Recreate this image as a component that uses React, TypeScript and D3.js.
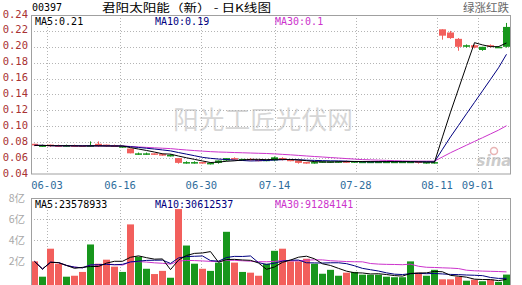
import React from 'react';
import * as d3 from 'd3';

const W = 522;
const H = 285;

const tickLabels = ['06-03', '06-16', '06-30', '07-14', '07-28', '08-11', '09-01'];
const tickIndex = [2, 11, 21, 30, 40, 50, 55];
const priceTicks = [0.04, 0.06, 0.08, 0.1, 0.12, 0.14, 0.16, 0.18, 0.2, 0.22, 0.24];
const volTicks = [2, 4, 6, 8];
const volGrid = [4, 6];

const opens = [
  0.078, 0.075, 0.077, 0.076, 0.075, 0.076, 0.076, 0.075, 0.078, 0.077,
  0.076, 0.074, 0.072, 0.065, 0.065, 0.066, 0.065, 0.063, 0.060, 0.054,
  0.054, 0.055, 0.053, 0.054, 0.057, 0.060, 0.058, 0.059, 0.058, 0.057,
  0.057, 0.060, 0.058, 0.057, 0.055, 0.054, 0.055, 0.055, 0.055, 0.056,
  0.055, 0.055, 0.055, 0.055, 0.055, 0.055, 0.055, 0.055, 0.056, 0.054,
  0.054, 0.222, 0.218, 0.210, 0.200, 0.202, 0.196, 0.202, 0.200, 0.200,
];
const closes = [
  0.076, 0.076, 0.075, 0.075, 0.076, 0.075, 0.075, 0.076, 0.075, 0.075,
  0.075, 0.075, 0.066, 0.066, 0.066, 0.065, 0.064, 0.064, 0.054, 0.055,
  0.055, 0.054, 0.054, 0.057, 0.060, 0.058, 0.059, 0.058, 0.057, 0.058,
  0.061, 0.058, 0.057, 0.054, 0.054, 0.055, 0.056, 0.056, 0.056, 0.055,
  0.056, 0.0555, 0.0555, 0.0555, 0.0555, 0.0555, 0.0555, 0.0555, 0.054, 0.055,
  0.055, 0.214, 0.211, 0.200, 0.202, 0.199, 0.200, 0.200, 0.200, 0.225,
];
const highs = [
  0.078, 0.077, 0.077, 0.077, 0.077, 0.077, 0.076, 0.081, 0.081, 0.077,
  0.077, 0.075, 0.072, 0.067, 0.067, 0.066, 0.066, 0.065, 0.060, 0.056,
  0.056, 0.055, 0.055, 0.057, 0.060, 0.061, 0.059, 0.060, 0.058, 0.058,
  0.062, 0.061, 0.058, 0.057, 0.055, 0.056, 0.056, 0.056, 0.056, 0.057,
  0.056, 0.056, 0.056, 0.056, 0.056, 0.056, 0.056, 0.056, 0.056, 0.055,
  0.055, 0.222, 0.220, 0.211, 0.203, 0.203, 0.200, 0.203, 0.201, 0.230,
];
const lows = [
  0.075, 0.074, 0.074, 0.074, 0.074, 0.074, 0.074, 0.074, 0.074, 0.074,
  0.074, 0.073, 0.066, 0.064, 0.064, 0.064, 0.063, 0.062, 0.053, 0.053,
  0.053, 0.053, 0.052, 0.053, 0.056, 0.057, 0.057, 0.057, 0.056, 0.056,
  0.056, 0.057, 0.056, 0.053, 0.053, 0.053, 0.054, 0.054, 0.054, 0.054,
  0.054, 0.054, 0.054, 0.054, 0.054, 0.054, 0.054, 0.054, 0.053, 0.053,
  0.053, 0.209, 0.210, 0.195, 0.199, 0.198, 0.195, 0.199, 0.199, 0.199,
];
// volume in 亿
const volumes = [
  2.0, 0.55, 3.2, 1.78, 0.55, 0.64, 1.0, 3.6, 1.78, 2.16,
  1.5, 1.0, 5.5, 2.45, 1.3, 0.8, 1.1, 0.45, 6.95, 3.5,
  1.78, 1.3, 1.1, 1.88, 4.8, 1.88, 1.0, 0.93, 0.64, 1.78,
  3.0, 3.2, 2.0, 2.0, 2.25, 1.78, 0.83, 1.2, 0.64, 0.93,
  1.0, 0.74, 0.74, 0.74, 0.55, 0.5, 0.5, 2.0, 0.93, 0.64,
  1.2, 0.3, 0.3, 0.55, 0.17, 0.27, 0.12, 0.27, 0.06, 0.75,
];

const UP = '#17961c';
const DOWN = '#f25f5c';
const C5 = '#000000';
const C10 = '#000080';
const C30 = '#cc33cc';
const FRAME = '#a0a0a0';
const GRID = '#b4b4b4';
const MONO = '"DejaVu Sans Mono", "Liberation Mono", monospace';
const CJK = '"Noto Sans CJK SC", "Noto Sans", sans-serif';

function movingAvg(arr: number[], n: number): number[] {
  return arr.map((_, i) => {
    const s = Math.max(0, i - n + 1);
    return d3.mean(arr.slice(s, i + 1)) as number;
  });
}

export default function App() {
  const idx = d3.range(opens.length);
  const x = d3.scaleBand<number>().domain(idx).range([31, 510]).paddingInner(0.125).paddingOuter(0);
  const cx = (i: number) => Math.round(x(i) as number) + 3.5;
  const gx = d3.scaleLinear().domain([0, 60]).range([30.75, 30.75 + 60 * 8.125]);
  const py = d3.scaleLinear().domain([0.04, 0.24]).range([174, 15]);
  const vy = d3.scaleLinear().domain([0, 8]).range([282.5, 198]);

  const pLine = d3.line<number>().x((_, i) => cx(i)).y((d) => py(d));
  const vLine = d3.line<number>().x((_, i) => cx(i)).y((d) => vy(d));

  const ma5 = movingAvg(closes, 5);
  const ma10 = movingAvg(closes, 10);
  const ma30 = movingAvg(closes, 30);
  const vma5 = movingAvg(volumes, 5);
  const vma10 = movingAvg(volumes, 10);
  const vma30 = movingAvg(volumes, 30);

  return (
    <svg width={W} height={H} style={{ position: 'fixed', left: 0, top: 0, background: '#fff' }}>
      <rect x={0} y={0} width={W} height={H} fill="#fff" />
      {/* header */}
      <text x={32} y={10.5} fontFamily={MONO} fontSize={10} fill="#000">00397</text>
      <text x={102} y={12} fontFamily={CJK} fontSize={11} fill="#000" textLength={169} lengthAdjust="spacingAndGlyphs">君阳太阳能（新） - 日K线图</text>
      <text x={509} y={12} fontFamily={CJK} fontSize={11.5} fill="#666" textAnchor="end">绿涨红跌</text>

      {/* watermark */}
      <text x={263} y={129} fontFamily={CJK} fontSize={25} fill="#d6d6d6" textAnchor="middle" textLength={180} lengthAdjust="spacingAndGlyphs">阳光工匠光伏网</text>
      <g>
        <circle cx={494} cy={151} r={3.5} fill="none" stroke="#e8b4b4" strokeWidth={1.5} />
        <text x={494} y={166} fontFamily='"DejaVu Sans", sans-serif' fontStyle="italic" fontWeight="bold" fontSize={15} fill="#cccccc" textAnchor="middle">sina</text>
      </g>

      {/* price grid */}
      {priceTicks.filter((t) => t > 0.041 && t < 0.239).map((t) => (
        <line key={'pg' + t} x1={31} x2={510} y1={Math.round(py(t)) + 0.5} y2={Math.round(py(t)) + 0.5} stroke={GRID} strokeDasharray="1,2" />
      ))}
      {tickIndex.map((ti, k) => (
        <line key={'vg' + k} x1={Math.round(gx(ti)) + 0.5} x2={Math.round(gx(ti)) + 0.5} y1={15} y2={174} stroke={GRID} strokeDasharray="1,2" />
      ))}
      {priceTicks.map((t) => (
        <text key={'pl' + t} x={28} y={py(t) + 2.5} fontFamily={MONO} fontSize={10.5} fill="#a83232" textAnchor="end">{t.toFixed(2)}</text>
      ))}

      {/* candles */}
      {idx.map((i) => {
        const up = closes[i] >= opens[i];
        const col = up ? UP : DOWN;
        const top = py(Math.max(opens[i], closes[i]));
        const bot = py(Math.min(opens[i], closes[i]));
        const bx = Math.round(x(i) as number);
        return (
          <g key={'c' + i}>
            <line x1={cx(i)} x2={cx(i)} y1={py(highs[i])} y2={py(lows[i])} stroke={col} strokeWidth={1} />
            <rect x={bx} y={top} width={7} height={Math.max(1.5, bot - top)} fill={col} />
          </g>
        );
      })}

      <path d={pLine(ma30) || ''} fill="none" stroke={C30} strokeWidth={1} />
      <path d={pLine(ma10) || ''} fill="none" stroke={C10} strokeWidth={1} />
      <path d={pLine(ma5) || ''} fill="none" stroke={C5} strokeWidth={1} />

      <rect x={31.5} y={15.5} width={479} height={158.5} fill="none" stroke={FRAME} />

      <text x={35} y={25} fontFamily={MONO} fontSize={10} fill={C5}>MA5:0.21</text>
      <text x={155} y={25} fontFamily={MONO} fontSize={10} fill={C10}>MA10:0.19</text>
      <text x={275} y={25} fontFamily={MONO} fontSize={10} fill={C30}>MA30:0.1</text>

      {/* dates */}
      {tickIndex.map((ti, k) => (
        <text key={'dl' + k} x={gx(ti)} y={189} fontFamily={MONO} fontSize={10.5} fill="#2f6d9c" textAnchor="middle">{tickLabels[k]}</text>
      ))}

      {/* volume panel */}
      {volGrid.map((t) => (
        <line key={'vgh' + t} x1={31} x2={510} y1={Math.round(vy(t)) + 0.5} y2={Math.round(vy(t)) + 0.5} stroke={GRID} strokeDasharray="1,2" />
      ))}
      {tickIndex.map((ti, k) => (
        <line key={'vgv' + k} x1={Math.round(gx(ti)) + 0.5} x2={Math.round(gx(ti)) + 0.5} y1={198} y2={285} stroke={GRID} strokeDasharray="1,2" />
      ))}
      {volTicks.map((t) => (
        <text key={'vl' + t} x={25} y={vy(t) + 4} fontFamily={CJK} fontSize={10.5} fill="#a8a8a8" textAnchor="end">{t}亿</text>
      ))}
      {idx.map((i) => {
        const up = closes[i] >= opens[i];
        const bx = Math.round(x(i) as number);
        const top = vy(volumes[i]);
        return <rect key={'v' + i} x={bx} y={top} width={7} height={285 - top} fill={up ? UP : DOWN} />;
      })}
      <path d={vLine(vma30) || ''} fill="none" stroke={C30} strokeWidth={1} />
      <path d={vLine(vma10) || ''} fill="none" stroke={C10} strokeWidth={1} />
      <path d={vLine(vma5) || ''} fill="none" stroke={C5} strokeWidth={1} />
      <rect x={31.5} y={198.5} width={479} height={90} fill="none" stroke={FRAME} />

      <text x={35} y={207.5} fontFamily={MONO} fontSize={10} fill={C5}>MA5:23578933</text>
      <text x={155} y={207.5} fontFamily={MONO} fontSize={10} fill={C10}>MA10:30612537</text>
      <text x={275} y={207.5} fontFamily={MONO} fontSize={10} fill={C30}>MA30:91284141</text>
    </svg>
  );
}
